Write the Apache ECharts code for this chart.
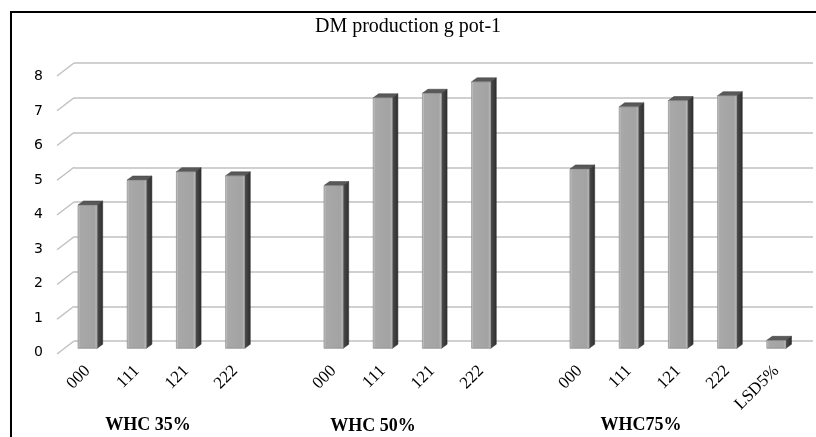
<!DOCTYPE html>
<html>
<head>
<meta charset="utf-8">
<script src="https://cdn.jsdelivr.net/npm/echarts@6/dist/echarts.min.js"></script>
<style>
html,body{margin:0;padding:0;background:#fff;}
#c{width:816px;height:437px;}
</style>
</head>
<body>
<div id="c"></div>
<script>
// ---- data ----
var categories = ['000','111','121','222','','000','111','121','222','','000','111','121','222','LSD5%'];
var whc35 = [4.13, 4.85, 5.09, 4.97];
var whc50 = [4.69, 7.22, 7.35, 7.68];
var whc75 = [5.17, 6.96, 7.14, 7.28];
var lsd = [0.23];
var groupNames = ['WHC 35%', 'WHC 50%', 'WHC75%'];
var yTicks = [0,1,2,3,4,5,6,7,8];
var titleText = 'DM production g pot-1';

// build bar data (category index, value)
var values = [].concat(whc35, [null], whc50, [null], whc75, lsd);
var barData = [];
values.forEach(function(v, i){ if (v !== null) barData.push([i, v]); });

var chart = echarts.init(document.getElementById('c'), null, {renderer:'canvas'});

var DX = 5.5, DY = -4;

function renderBar(params, api){
  var idx = api.value(0), val = api.value(1);
  var top = api.coord([idx, val]);
  var bot = api.coord([idx, 0]);
  var w = api.size([1, 0])[0] * 0.39;
  var x0 = top[0] - w/2, x1 = top[0] + w/2;
  var yt = top[1], yb = bot[1];
  return {
    type: 'group',
    children: [
      {type:'polygon', shape:{points:[[x1,yt],[x1+DX,yt+DY],[x1+DX,yb+DY],[x1,yb]]},
       style:{fill:new echarts.graphic.LinearGradient(0,0,1,0,[{offset:0,color:'#4d4d4d'},{offset:1,color:'#2e2e2e'}]), stroke:'#2a2a2a', lineWidth:0.5}},
      {type:'polygon', shape:{points:[[x0,yt],[x1,yt],[x1+DX,yt+DY],[x0+DX,yt+DY]]},
       style:{fill:'#595959', stroke:'#3a3a3a', lineWidth:0.5}},
      {type:'rect', shape:{x:x0, y:yt, width:w, height:yb-yt},
       style:{fill:new echarts.graphic.LinearGradient(0,0,1,0,[
         {offset:0,color:'#cfcfcf'},{offset:0.12,color:'#a8a8a8'},{offset:0.85,color:'#a3a3a3'},{offset:1,color:'#c4c4c4'}]),
         stroke:'#7a7a7a', lineWidth:0.6}}
    ]
  };
}

function renderDiag(params, api){
  var v = api.value(0);
  var back = api.coord([0, v]);
  return {
    type:'line',
    shape:{x1:back[0]-17, y1:back[1]+13, x2:back[0], y2:back[1]},
    style:{stroke:'#c0c0c0', lineWidth:1.5}
  };
}

var option = {
  animation: false,
  backgroundColor: '#fff',
  title: {
    text: titleText, left: 'center', top: 12,
    textStyle: {fontFamily:'Liberation Serif', fontSize:20, fontWeight:'normal', color:'#000'}
  },
  grid: [
    {left:74, right:3, top:63, height:278},
    {left:63, width:738, top:70.7, height:277.6},
    {left:57, width:10, top:76.5, height:276}
  ],
  xAxis: [
    {gridIndex:0, type:'value', min:0, max:1, show:false},
    {gridIndex:1, type:'category', data:categories, boundaryGap:true,
     axisLine:{show:false}, axisTick:{show:false},
     axisLabel:{interval:0, rotate:45, margin:20, fontFamily:'Liberation Serif', fontSize:17, color:'#000'}},
    {gridIndex:2, type:'value', show:false}
  ],
  yAxis: [
    {gridIndex:0, type:'value', min:0, max:8, interval:1,
     axisLine:{show:false}, axisTick:{show:false}, axisLabel:{show:false},
     splitLine:{show:true, lineStyle:{color:'#c0c0c0', width:1.5}}},
    {gridIndex:1, type:'value', min:0, max:8, interval:1, show:false, splitLine:{show:false}},
    {gridIndex:2, type:'value', min:0, max:8, interval:1,
     axisLine:{show:false}, axisTick:{show:false}, splitLine:{show:false},
     axisLabel:{margin:14, fontFamily:'DejaVu Sans', fontSize:14, color:'#000',
       formatter:function(v){ return yTicks.indexOf(v) >= 0 ? String(v) : ''; }}}
  ],
  series: [
    {type:'custom', xAxisIndex:0, yAxisIndex:0, data:yTicks.map(function(v){return [v];}),
     renderItem:renderDiag, silent:true, encode:{y:0}},
    {type:'custom', xAxisIndex:1, yAxisIndex:1, data:barData, renderItem:renderBar,
     encode:{x:0, y:1}, z:3}
  ],
  graphic: [
    {type:'rect', shape:{x:11, y:12, width:820, height:440}, style:{fill:null, stroke:'#000', lineWidth:2}, z:100},
    {type:'text', x:148, y:425, style:{text:groupNames[0], font:'bold 18px "Liberation Serif"', fill:'#000', textAlign:'center', textVerticalAlign:'middle'}},
    {type:'text', x:373, y:426, style:{text:groupNames[1], font:'bold 18px "Liberation Serif"', fill:'#000', textAlign:'center', textVerticalAlign:'middle'}},
    {type:'text', x:641, y:425, style:{text:groupNames[2], font:'bold 18px "Liberation Serif"', fill:'#000', textAlign:'center', textVerticalAlign:'middle'}}
  ]
};
chart.setOption(option);
</script>
</body>
</html>
